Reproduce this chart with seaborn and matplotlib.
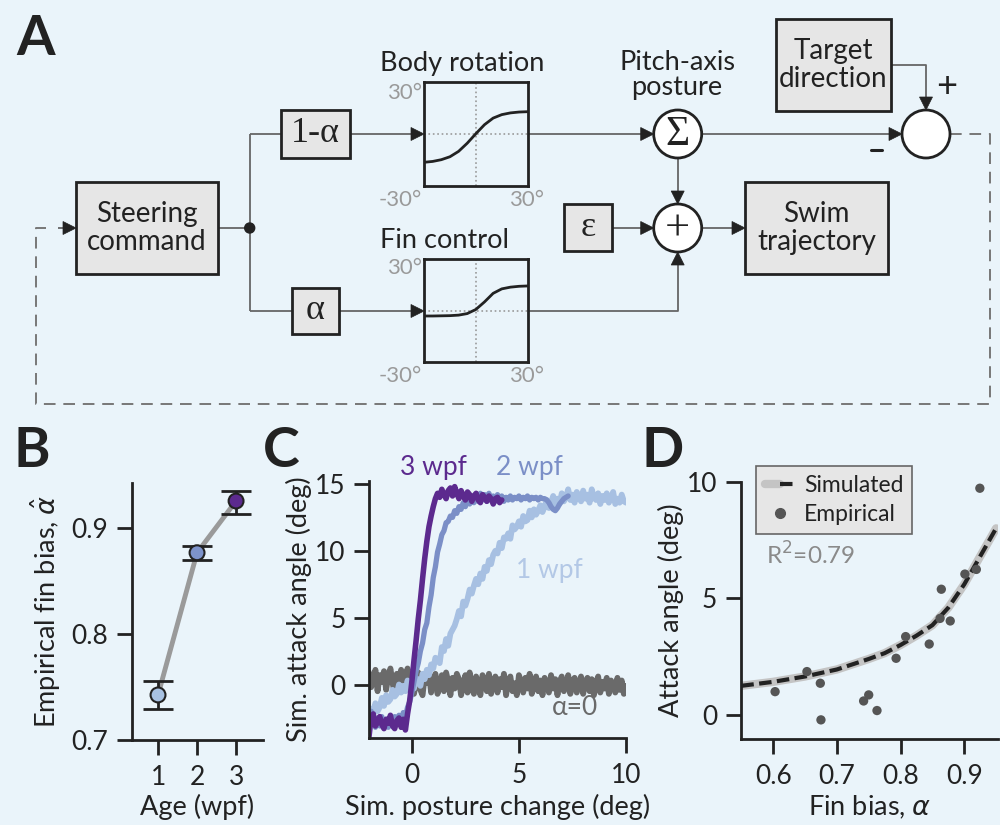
import numpy as np
import matplotlib
matplotlib.use('Agg')
import matplotlib.pyplot as plt
from matplotlib import patches
from matplotlib.lines import Line2D
from matplotlib.legend_handler import HandlerTuple
import seaborn as sns

sns.set_theme(style='ticks')
BG = '#eaf4fa'
INK = '#222222'
WIRE = '#666666'
plt.rcParams['font.family'] = ['Lato', 'DejaVu Sans']
plt.rcParams.update({
    'axes.facecolor': 'none', 'axes.edgecolor': INK, 'axes.linewidth': 2,
    'axes.labelsize': 19.5, 'axes.labelcolor': INK,
    'xtick.major.size': 11, 'ytick.major.size': 11,
    'xtick.major.width': 2, 'ytick.major.width': 2,
    'xtick.labelsize': 19, 'ytick.labelsize': 19,
    'xtick.color': INK, 'ytick.color': INK,
    'xtick.major.pad': 7, 'ytick.major.pad': 6,
})

# ---- data ----
# A: transfer curves drawn inside the diagram (deg in, deg out)
curve_x = [-30, -25, -20, -15, -10, -5, 0, 5, 10, 15, 20, 25, 30]
body_rot_y = [-16.5, -16, -15, -13.3, -10.2, -5.5, 0, 5.2, 9, 11, 12, 12.5, 12.7]
fin_ctrl_y = [-3.2, -3.2, -3.1, -3, -2.7, -1.8, 0.6, 5, 10, 12.6, 13.6, 14.1, 14.3]

# B: empirical fin bias by age
age = [1, 2, 3]
fin_bias = [0.7425, 0.8767, 0.9255]
fin_bias_lo = [0.729, 0.870, 0.913]
fin_bias_hi = [0.7557, 0.883, 0.935]
age_colors = ['#a8c2e3', '#7d93cb', '#5c2a8e']

# C: simulated attack angle vs posture change (sampled every 0.1 deg)
alpha0_range = (-2, 10)
alpha0_y = [0.9, -0.2, 0.4, 1.1, -0.5, 0.7, 0.2, 1.0, -0.4, 0.6,
            1.2, 0.1, -0.6, 0.8, 0.3, 1.1, -0.3, 0.5, 1.2, 0.0,
            0.7, -0.7, 0.2, 0.9, -0.4, -0.8, 0.6, 0.1, 0.9, -0.6,
            0.3, 0.8, -0.7, -0.1, 0.7, -0.5, 0.9, 0.2, -0.8, 0.5,
            -0.3, 0.8, 0.4, -0.8, 0.1, 0.7, -0.6, 0.9, -0.2, -0.7,
            0.6, 0.0, -0.8, 0.7, 0.3, -0.5, 0.8, -0.7, 0.2, 0.6,
            -0.6, 0.4, -0.2, 0.8, -0.8, 0.3, 0.6, -0.5, 0.1, -0.8,
            0.7, 0.2, -0.6, 0.5, -0.3, 0.8, -0.7, 0.0, 0.6, -0.5,
            0.3, -0.8, 0.5, 0.1, -0.6, 0.7, -0.3, 0.4, -0.8, 0.2,
            0.6, -0.5, -0.1, 0.7, -0.7, 0.3, 0.5, -0.6, 0.0, 0.6,
            -0.7, 0.2, 0.5, -0.5, 0.4, -0.8, 0.1, 0.6, -0.6, 0.2,
            -0.3, 0.5, -0.7, 0.3, 0.0, -0.6, 0.5, -0.4, 0.3, -0.7, -0.1]
wpf1_range = (-2, 10)
wpf1_y = [-2.7, -1.8, -2.1, -1.4, -2.0, -1.7, -1.0, -1.6, -0.8, -1.3,
          -1.1, -0.4, -0.9, -0.7, 0.0, -0.6, -0.1, -0.5, 0.3, -0.2,
          0.2, -0.3, 0.5, 0.3, -0.1, 0.8, 0.4, 1.1, 0.7, 1.5,
          1.2, 2.0, 1.9, 1.6, 2.8, 2.5, 3.4, 2.9, 3.8, 4.1,
          4.4, 4.9, 5.5, 5.1, 6.2, 5.9, 6.4, 7.1, 6.8, 7.4,
          7.9, 7.5, 8.3, 7.9, 8.8, 8.5, 9.3, 9.0, 9.7, 10.0,
          9.8, 10.6, 10.2, 11.0, 10.9, 11.3, 10.9, 11.9, 11.6, 11.8,
          12.2, 11.8, 12.6, 12.2, 12.3, 13.0, 12.5, 13.1, 12.7, 13.0,
          13.4, 12.9, 13.3, 13.8, 13.2, 13.6, 14.1, 13.3, 13.9, 13.5,
          14.3, 13.7, 14.0, 14.6, 13.8, 14.2, 13.6, 14.4, 14.1, 13.7,
          14.5, 13.9, 14.2, 13.6, 14.6, 14.0, 13.8, 14.3, 13.5, 14.1,
          13.8, 14.3, 13.6, 14.0, 14.4, 13.5, 13.9, 13.6, 14.2, 13.7, 13.6]
wpf2_range = (-2, 7.3)
wpf2_y = [-2.7, -2.0, -2.6, -3.2, -2.5, -3.1, -2.4, -3.0, -2.6, -3.2,
          -2.5, -3.1, -2.4, -2.9, -2.3, -2.8, -2.1, -2.4, -1.7, -1.3,
          -0.6, 0.2, 1.0, 1.6, 2.5, 3.1, 4.1, 4.6, 5.8, 6.7,
          8.0, 8.8, 9.9, 10.5, 11.2, 11.5, 12.1, 12.2, 12.6, 12.5,
          13.0, 12.8, 13.3, 13.1, 13.6, 13.3, 13.9, 13.5, 14.1, 13.6,
          14.2, 13.7, 14.3, 13.8, 14.2, 13.7, 14.3, 13.8, 14.1, 13.7,
          14.2, 13.8, 14.1, 13.7, 14.0, 13.8, 14.1, 13.8, 14.0, 13.9,
          14.1, 13.8, 14.0, 13.9, 14.1, 13.8, 14.0, 13.9, 14.0, 13.8,
          14.0, 13.9, 13.9, 13.8, 13.6, 13.3, 13.1, 13.0, 13.2, 13.5,
          13.7, 13.9, 14.0, 14.1]
wpf3_range = (-2, 4.2)
wpf3_y = [-3.9, -2.5, -2.2, -3.1, -2.8, -2.4, -3.0, -3.3, -2.6, -2.9,
          -2.3, -3.1, -3.3, -2.7, -2.5, -3.2, -2.6, -3.4, -2.2, -1.2,
          0.2, 1.8, 3.3, 4.9, 6.3, 7.9, 9.4, 10.7, 11.8, 12.6,
          13.3, 13.9, 14.3, 14.0, 14.6, 14.2, 13.9, 14.5, 14.7, 14.1,
          14.8, 14.3, 13.9, 14.5, 14.1, 13.8, 14.4, 14.2, 13.7, 14.1,
          14.3, 13.8, 13.6, 14.2, 14.0, 13.7, 14.1, 13.9, 13.5, 13.9,
          14.0, 13.6, 13.8]

# D: attack angle vs fin bias
sim_x = [0.55, 0.60, 0.65, 0.70, 0.75, 0.775, 0.80, 0.825, 0.85, 0.875, 0.90, 0.925, 0.95]
sim_y = [1.25, 1.42, 1.65, 1.95, 2.4, 2.65, 3.0, 3.4, 3.85, 4.6, 5.6, 6.8, 8.0]
emp_x = [0.603, 0.653, 0.674, 0.675, 0.742, 0.750, 0.763, 0.793, 0.808,
         0.845, 0.862, 0.864, 0.878, 0.901, 0.919, 0.9245]
emp_y = [1.0, 1.86, 1.36, -0.21, 0.6, 0.86, 0.19, 2.43, 3.36,
         3.04, 4.14, 5.39, 4.03, 6.04, 6.24, 9.72]

W, H = 1000, 825
fig = plt.figure(figsize=(10, 8.25), dpi=100, facecolor=BG)


def px_axes(x0, y0, x1, y1, **kw):
    return fig.add_axes([x0 / W, (H - y1) / H, (x1 - x0) / W, (y1 - y0) / H], **kw)


# ---- A: block diagram ----
dg = fig.add_axes([0, 0, 1, 1], zorder=0)
dg.set_xlim(0, W)
dg.set_ylim(H, 0)
dg.axis('off')
dg.patch.set_alpha(0)


def box(x0, y0, x1, y1, label, **kw):
    dg.add_patch(patches.Rectangle((x0, y0), x1 - x0, y1 - y0, fc='#e6e6e6', ec=INK, lw=2, zorder=3))
    dg.text((x0 + x1) / 2, (y0 + y1) / 2, label, ha='center', va='center', color=INK,
            zorder=4, **kw)


def wire(xs, ys, **kw):
    dg.plot(xs, ys, color=WIRE, lw=1.3, zorder=2, solid_capstyle='butt', **kw)


def head(x, y, d, L=13, w=6.5):
    if d == 'r':
        pts = [(x, y), (x - L, y - w), (x - L, y + w)]
    elif d == 'd':
        pts = [(x, y), (x - w, y - L), (x + w, y - L)]
    else:
        pts = [(x, y), (x - w, y + L), (x + w, y + L)]
    dg.add_patch(patches.Polygon(pts, closed=True, fc=INK, ec=INK, lw=0.5, zorder=5))


def node(cx, cy, label=None, size=24):
    dg.add_patch(patches.Circle((cx, cy), 24, fc='white', ec=INK, lw=2, zorder=3))
    if label:
        dg.text(cx, cy + 1, label, ha='center', va='center', fontsize=size, color=INK,
                family=['Liberation Serif', 'DejaVu Serif'], zorder=4)


serif = dict(family=['Liberation Serif', 'DejaVu Serif'], fontsize=26)
txt = dict(fontsize=20, linespacing=1.1)

box(76, 182, 218, 274, 'Steering\ncommand', **txt)
box(775.7, 19, 891, 110.7, 'Target\ndirection', **txt)
box(745, 181.7, 888.3, 274, 'Swim\ntrajectory', **txt)
box(281, 110, 350, 158, '1-α', **serif)
box(291.7, 287.7, 339, 334, 'α', **serif)
box(564.3, 204, 611.7, 250.7, 'ε', **serif)

wire([218, 249.7], [228, 228])
dg.add_patch(patches.Circle((249.7, 228), 5, fc=INK, ec=INK, zorder=4))
wire([249.7, 249.7], [134, 311])
wire([249.7, 281], [134, 134])
wire([350, 412], [134, 134]); head(424, 134, 'r')
wire([249.7, 291.7], [311, 311])
wire([339, 412], [311, 311]); head(424, 311, 'r')

wire([527.7, 642], [134, 134]); head(653.7, 134, 'r')
node(677.7, 134, 'Σ', 30)
wire([701.7, 890], [134, 134]); head(902, 134, 'r')
node(926, 134)
wire([891, 926, 926], [65, 65, 98]); head(926, 110, 'd')
wire([677.7, 677.7], [158, 192]); head(677.7, 204, 'd')
node(677.7, 228, '+', 32)
wire([611.7, 642], [228, 228]); head(653.7, 228, 'r')
wire([527.7, 677.7, 677.7], [311, 311, 264]); head(677.7, 252, 'u')
wire([701.7, 733], [228, 228]); head(745, 228, 'r')

dash = dict(color='#777777', lw=1.4, dashes=(6, 4), zorder=1)
dg.plot([950, 990, 990, 36, 36, 46], [134, 134, 404, 404, 228, 228], **dash)
wire([58, 64], [228, 228]); head(76, 228, 'r')

dg.plot([871, 882], [150, 150], color=INK, lw=2.2)
dg.text(946.7, 87, '+', fontsize=26, ha='center', va='center', color=INK)
dg.text(677, 75, 'Pitch-axis\nposture', fontsize=19.5, ha='center', va='center',
        linespacing=0.95, color=INK)
dg.text(380, 63, 'Body rotation', fontsize=19.5, ha='left', va='center', color=INK)
dg.text(380, 240, 'Fin control', fontsize=19.5, ha='left', va='center', color=INK)

tick_grey = dict(fontsize=16, color='#9a9a9a', va='center')
for top, bot in [(93, 200), (268, 376)]:
    dg.text(422, top, '30°', ha='right', **tick_grey)
    dg.text(422, bot, '-30°', ha='right', **tick_grey)
    dg.text(527, bot, '30°', ha='center', **tick_grey)

for (y0, y1), yv in [((81.7, 185.7), body_rot_y), ((259, 362), fin_ctrl_y)]:
    ins = px_axes(424, y0, 527.7, y1, zorder=3)
    ins.set_facecolor('none')
    ins.axhline(0, color='#999999', ls=':', lw=1.2)
    ins.axvline(0, color='#999999', ls=':', lw=1.2)
    sns.lineplot(x=curve_x, y=yv, ax=ins, color=INK, lw=2)
    ins.set_xlim(-30, 30)
    ins.set_ylim(-30, 30)
    ins.set_xticks([])
    ins.set_yticks([])
    for s in ins.spines.values():
        s.set_linewidth(2)
        s.set_color(INK)

# ---- B ----
axB = px_axes(132, 483, 263, 740)
axB.errorbar(age, fin_bias, yerr=[np.subtract(fin_bias, fin_bias_lo), np.subtract(fin_bias_hi, fin_bias)],
             fmt='none', ecolor=INK, elinewidth=2, capsize=11, capthick=2, zorder=3)
sns.lineplot(x=age, y=fin_bias, ax=axB, color='#9a9a9a', lw=3.5, zorder=2)
sns.scatterplot(x=age, y=fin_bias, hue=age, palette=age_colors, ax=axB, s=115,
                edgecolor=INK, linewidth=1.5, legend=False, zorder=5)
axB.set_xlim(0.333, 3.69)
axB.set_ylim(0.7, 0.9425)
axB.set_xticks(age)
axB.set_yticks([0.7, 0.8, 0.9])
axB.set_yticklabels(['0.7', '0.8', '0.9'])
axB.set_xlabel('Age (wpf)', labelpad=3)
axB.set_ylabel(r'Empirical fin bias, $\hat{\alpha}$', labelpad=6)
sns.despine(ax=axB)

# ---- C ----
axC = px_axes(369, 480.6, 626, 738)
for rng, yv, col, lw in [(alpha0_range, alpha0_y, '#6a6a6a', 4.2), (wpf1_range, wpf1_y, '#a7c0e2', 4.2),
                         (wpf2_range, wpf2_y, '#7b8fc7', 3.8), (wpf3_range, wpf3_y, '#5c2a8e', 4.0)]:
    sns.lineplot(x=np.linspace(rng[0], rng[1], len(yv)), y=yv, ax=axC, color=col, lw=lw)
axC.set_xlim(-2, 10)
axC.set_ylim(-4, 15.25)
axC.set_xticks([0, 5, 10])
axC.set_yticks([0, 5, 10, 15])
axC.set_xlabel('Sim. posture change (deg)', labelpad=4)
axC.set_ylabel('Sim. attack angle (deg)', labelpad=2)
axC.text(1.0, 16.2, '3 wpf', color='#5c2a8e', fontsize=19, ha='center', va='center')
axC.text(5.5, 16.2, '2 wpf', color='#7b8fc7', fontsize=19, ha='center', va='center')
axC.text(6.4, 8.5, '1 wpf', color='#b3c8e6', fontsize=19, ha='center', va='center')
axC.text(7.6, -1.75, 'α=0', color='#6a6a6a', fontsize=19, ha='center', va='center')
sns.despine(ax=axC)

# ---- D ----
axD = px_axes(740.7, 481.7, 998, 739)
sns.lineplot(x=sim_x, y=sim_y, ax=axD, color='#c4c4c4', lw=6, zorder=2)
sns.lineplot(x=sim_x, y=sim_y, ax=axD, color=INK, lw=3, zorder=3)
axD.lines[-1].set_dashes((3, 1.3))
sns.scatterplot(x=emp_x, y=emp_y, ax=axD, color='#555555', s=45, edgecolor='none', zorder=4)
axD.set_xlim(0.549, 0.953)
axD.set_ylim(-1.03, 10)
axD.set_xticks([0.6, 0.7, 0.8, 0.9])
axD.set_xticklabels(['0.6', '0.7', '0.8', '0.9'])
axD.set_yticks([0, 5, 10])
axD.set_xlabel(r'Fin bias, $\alpha$', labelpad=3)
axD.set_ylabel('Attack angle (deg)', labelpad=2)
h_sim = (Line2D([], [], color='#c4c4c4', lw=6),
         Line2D([], [], color=INK, lw=3, dashes=(3, 1.3)))
h_emp = Line2D([], [], ls='none', marker='o', color='#555555', markersize=7)
leg = axD.legend([h_sim, h_emp], ['Simulated', 'Empirical'],
                 handler_map={tuple: HandlerTuple(ndivide=None, pad=0)},
                 loc='upper left', bbox_to_anchor=(0.058, 1.061), frameon=True,
                 fancybox=False, framealpha=1, fontsize=16.5, handlelength=1.3,
                 handletextpad=0.4, borderpad=0.4, labelspacing=0.35, borderaxespad=0)
leg.get_frame().set_facecolor('#e6e6e6')
leg.get_frame().set_edgecolor('#666666')
leg.get_frame().set_linewidth(1.2)
for t in leg.get_texts():
    t.set_color(INK)
axD.text(0.10, 0.715, 'R$^2$=0.79', transform=axD.transAxes, color='#8a8a8a',
         fontsize=17.5, ha='left', va='center')
sns.despine(ax=axD)

# ---- panel letters ----
for lab, x, y in [('A', 16, 39), ('B', 14, 451), ('C', 263, 451), ('D', 641, 451)]:
    fig.text(x / W, (H - y) / H, lab, fontsize=40, fontweight='bold', ha='left',
             va='center', color=INK)

fig.savefig('out.png', dpi=100, facecolor=BG)
